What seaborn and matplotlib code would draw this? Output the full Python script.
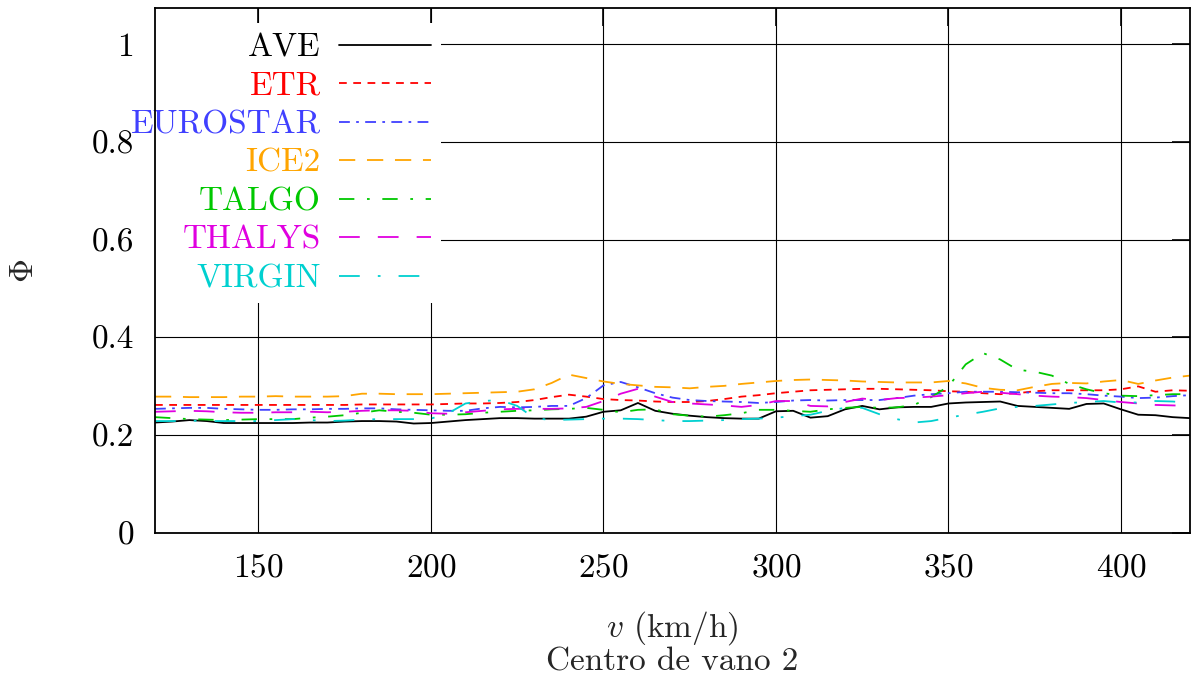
import matplotlib
matplotlib.use("Agg")
import matplotlib.pyplot as plt
import pandas as pd
import seaborn as sns

# velocidades (km/h)
v = [120, 125, 130, 135, 140, 145, 150, 155, 160, 165,
     170, 175, 180, 185, 190, 195, 200, 205, 210, 215,
     220, 225, 230, 235, 240, 245, 250, 255, 260, 265,
     270, 275, 280, 285, 290, 295, 300, 305, 310, 315,
     320, 325, 330, 335, 340, 345, 350, 355, 360, 365,
     370, 375, 380, 385, 390, 395, 400, 405, 410, 415,
     420]

ave = [0.226, 0.228, 0.231, 0.229, 0.225, 0.225, 0.225, 0.225, 0.225, 0.226,
       0.226, 0.228, 0.229, 0.229, 0.228, 0.224, 0.225, 0.228, 0.231, 0.233,
       0.235, 0.235, 0.234, 0.234, 0.234, 0.238, 0.248, 0.251, 0.266, 0.250,
       0.244, 0.240, 0.237, 0.235, 0.234, 0.234, 0.249, 0.250, 0.236, 0.239,
       0.253, 0.260, 0.253, 0.257, 0.258, 0.258, 0.265, 0.267, 0.268, 0.269,
       0.260, 0.258, 0.256, 0.254, 0.264, 0.265, 0.253, 0.242, 0.241, 0.237,
       0.235]

etr = [0.262, 0.262, 0.262, 0.262, 0.262, 0.262, 0.262, 0.262, 0.262, 0.262,
       0.262, 0.262, 0.263, 0.263, 0.263, 0.263, 0.263, 0.264, 0.265, 0.265,
       0.266, 0.268, 0.272, 0.278, 0.283, 0.279, 0.274, 0.272, 0.271, 0.269,
       0.268, 0.268, 0.270, 0.274, 0.279, 0.282, 0.286, 0.289, 0.292, 0.293,
       0.294, 0.295, 0.295, 0.294, 0.293, 0.292, 0.290, 0.289, 0.286, 0.284,
       0.286, 0.290, 0.292, 0.292, 0.292, 0.292, 0.294, 0.300, 0.289, 0.292,
       0.291]

eurostar = [0.254, 0.255, 0.256, 0.256, 0.254, 0.253, 0.252, 0.252, 0.253, 0.253,
            0.254, 0.254, 0.255, 0.255, 0.253, 0.252, 0.251, 0.250, 0.250, 0.255,
            0.258, 0.257, 0.258, 0.260, 0.260, 0.276, 0.302, 0.309, 0.298, 0.286,
            0.277, 0.272, 0.270, 0.269, 0.268, 0.266, 0.268, 0.271, 0.272, 0.271,
            0.272, 0.272, 0.272, 0.276, 0.281, 0.284, 0.286, 0.289, 0.289, 0.289,
            0.288, 0.287, 0.286, 0.286, 0.284, 0.281, 0.279, 0.276, 0.277, 0.280,
            0.282]

ice2 = [0.279, 0.279, 0.278, 0.278, 0.278, 0.279, 0.279, 0.280, 0.279, 0.279,
        0.279, 0.280, 0.285, 0.285, 0.284, 0.284, 0.284, 0.285, 0.286, 0.287,
        0.288, 0.289, 0.294, 0.307, 0.324, 0.317, 0.310, 0.305, 0.302, 0.299,
        0.298, 0.296, 0.299, 0.301, 0.305, 0.308, 0.311, 0.313, 0.314, 0.313,
        0.312, 0.310, 0.309, 0.308, 0.308, 0.308, 0.311, 0.306, 0.297, 0.293,
        0.292, 0.299, 0.305, 0.307, 0.306, 0.310, 0.313, 0.305, 0.312, 0.318,
        0.322]

talgo = [0.237, 0.235, 0.233, 0.232, 0.231, 0.232, 0.233, 0.233, 0.233, 0.236,
         0.238, 0.241, 0.246, 0.251, 0.248, 0.246, 0.242, 0.242, 0.243, 0.246,
         0.248, 0.250, 0.251, 0.253, 0.254, 0.256, 0.252, 0.247, 0.252, 0.253,
         0.243, 0.240, 0.238, 0.241, 0.245, 0.252, 0.252, 0.250, 0.248, 0.253,
         0.256, 0.258, 0.256, 0.257, 0.262, 0.278, 0.300, 0.345, 0.368, 0.355,
         0.334, 0.330, 0.322, 0.305, 0.294, 0.286, 0.281, 0.280, 0.282, 0.284,
         0.284]

thalys = [0.248, 0.249, 0.250, 0.249, 0.247, 0.246, 0.246, 0.247, 0.247, 0.248,
          0.247, 0.248, 0.250, 0.251, 0.251, 0.250, 0.245, 0.244, 0.247, 0.250,
          0.253, 0.254, 0.254, 0.254, 0.255, 0.258, 0.270, 0.285, 0.295, 0.279,
          0.268, 0.265, 0.263, 0.261, 0.258, 0.262, 0.270, 0.270, 0.260, 0.259,
          0.268, 0.275, 0.272, 0.276, 0.277, 0.279, 0.282, 0.286, 0.289, 0.287,
          0.284, 0.281, 0.279, 0.278, 0.276, 0.272, 0.268, 0.265, 0.262, 0.261,
          0.260]

virgin = [0.229, 0.229, 0.230, 0.229, 0.229, 0.229, 0.229, 0.231, 0.233, 0.231,
          0.229, 0.230, 0.232, 0.233, 0.233, 0.233, 0.234, 0.245, 0.265, 0.270,
          0.272, 0.260, 0.235, 0.231, 0.232, 0.233, 0.234, 0.234, 0.233, 0.231,
          0.229, 0.229, 0.230, 0.231, 0.233, 0.234, 0.236, 0.239, 0.242, 0.250,
          0.256, 0.256, 0.243, 0.233, 0.226, 0.229, 0.236, 0.242, 0.248, 0.255,
          0.258, 0.260, 0.263, 0.266, 0.268, 0.270, 0.267, 0.267, 0.270, 0.269,
          0.266]

trenes = ["AVE", "ETR", "EUROSTAR", "ICE2", "TALGO", "THALYS", "VIRGIN"]
series = [ave, etr, eurostar, ice2, talgo, thalys, virgin]

x_ticks = [150, 200, 250, 300, 350, 400]
y_ticks = [0, 0.2, 0.4, 0.6, 0.8, 1]
y_ticklabels = ["0", "0.2", "0.4", "0.6", "0.8", "1"]

colores = {"AVE": "black", "ETR": "#ff0000", "EUROSTAR": "#4040ff",
           "ICE2": "#ffa500", "TALGO": "#00c800", "THALYS": "#e000e0",
           "VIRGIN": "#00d0d0"}
trazos = {"AVE": "", "ETR": (4.3, 3.6), "EUROSTAR": (6, 3.5, 1.5, 3.5),
          "ICE2": (9, 6.5), "TALGO": (8.5, 7, 1.5, 7), "THALYS": (11.5, 10),
          "VIRGIN": (11.5, 10, 1.5, 10)}

rows = []
for nombre, vals in zip(trenes, series):
    for vi, p in zip(v, vals):
        rows.append({"v": vi, "phi": p, "tren": nombre})
df = pd.DataFrame(rows)

sns.set_style("white")
plt.rcParams["font.family"] = ["cmr10", "DejaVu Serif"]
plt.rcParams["mathtext.fontset"] = "cm"
plt.rcParams["axes.formatter.use_mathtext"] = True
plt.rcParams["font.size"] = 24

fig, ax = plt.subplots(figsize=(11.94, 6.83), dpi=100)
fig.subplots_adjust(left=0.1298, right=0.9966, top=0.988, bottom=0.2196)

sns.lineplot(data=df, x="v", y="phi", hue="tren", style="tren",
             palette=colores, dashes=trazos, hue_order=trenes,
             style_order=trenes, linewidth=1.3, ax=ax)

ax.set_xlim(120, 420)
ax.set_ylim(0, 1.0736)
ax.set_xticks(x_ticks)
ax.set_yticks(y_ticks)
ax.set_yticklabels(y_ticklabels)
ax.grid(True, color="black", linewidth=0.8)
ax.set_axisbelow(True)
ax.tick_params(direction="in", length=13, width=1.2, top=True, right=True,
               labelsize=24, pad=15, colors="black")
for s in ax.spines.values():
    s.set_linewidth(1.3)
    s.set_color("black")
    s.set_zorder(6)

ax.set_xlabel(r"$v$ (km/h)", fontsize=24, labelpad=19)
ax.set_ylabel(r"$\Phi$", fontsize=24, labelpad=38)
fig.text(0.5633, 0.031, "Centro de vano 2", ha="center", va="center", fontsize=24)

handles, labels = ax.get_legend_handles_labels()
leg = ax.legend(handles, labels, loc="upper right", bbox_to_anchor=(0.276, 0.972),
                markerfirst=False, frameon=True, facecolor="white", edgecolor="none",
                framealpha=1, fancybox=False, handlelength=2.75, handletextpad=0.55,
                labelspacing=0.275, borderpad=0.3, borderaxespad=0, fontsize=24)
for t, nombre in zip(leg.get_texts(), labels):
    t.set_color(colores[nombre])
# el fondo blanco de la leyenda solo tapa la rejilla dentro de los ejes
leg.get_frame().set_clip_box(ax.bbox)
leg.get_frame().set_clip_on(True)

fig.savefig("out.png", dpi=100)
